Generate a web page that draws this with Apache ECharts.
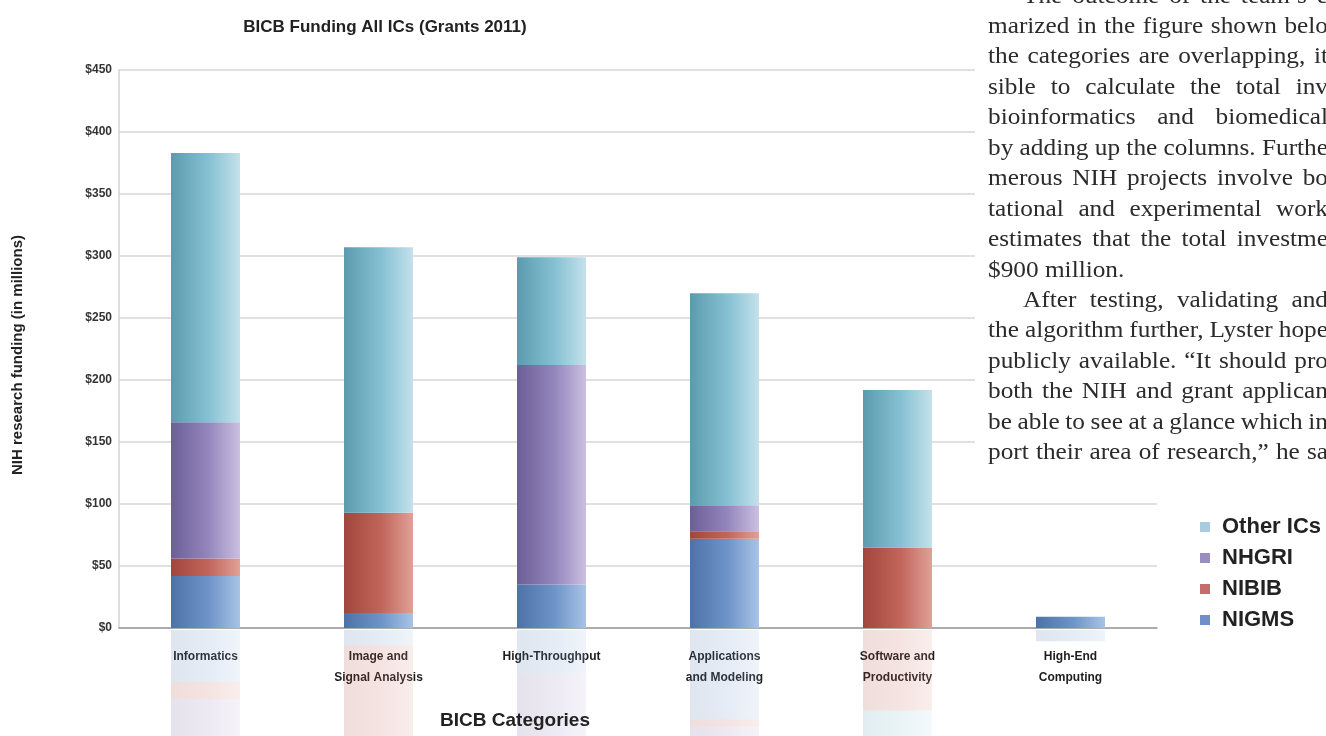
<!DOCTYPE html>
<html>
<head>
<meta charset="utf-8">
<script src="https://cdn.jsdelivr.net/npm/echarts@6/dist/echarts.min.js"></script>
<style>
html,body{margin:0;padding:0;background:#fff;}
#chart{width:1326px;height:736px;}
</style>
</head>
<body>
<div id="chart"></div>
<script>
// ---- data ----
var categories = ["Informatics", "Image and\nSignal Analysis", "High-Throughput", "Applications\nand Modeling", "Software and\nProductivity", "High-End\nComputing"];
var nigms = [42, 12, 35, 72, 0, 9];
var nibib = [14, 81, 0, 6, 65, 0];
var nhgri = [110, 0, 177, 21, 0, 0];
var otherICs = [217, 214, 87, 171, 127, 0];
var yTicks = [0, 50, 100, 150, 200, 250, 300, 350, 400, 450];
var seriesNames = ["NIGMS", "NIBIB", "NHGRI", "Other ICs"];
var legendOrder = ["Other ICs", "NHGRI", "NIBIB", "NIGMS"];
var paragraphLines = [
  "The outcome of the team\u2019s e",
  "marized in the figure shown belo",
  "the categories are overlapping, it",
  "sible to calculate the total inv",
  "bioinformatics and biomedical",
  "by adding up the columns. Furthe",
  "merous NIH projects involve bo",
  "tational and experimental work",
  "estimates that the total investme",
  "$900 million.",
  "After testing, validating and",
  "the algorithm further, Lyster hope",
  "publicly available. \u201cIt should pro",
  "both the NIH and grant applican",
  "be able to see at a glance which in",
  "port their area of research,\u201d he sa"
];
var indentedLines = [0, 10];
var raggedLines = [9];

// ---- styles ----
var colors = {
  "NIGMS": ["#4d72a7", "#6f94c9", "#a9c3e6"],
  "NIBIB": ["#a2463d", "#c2665c", "#e0a196"],
  "NHGRI": ["#6c5e97", "#9487bd", "#cbbfe1"],
  "Other ICs": ["#5b9bae", "#86c1d3", "#c4e1eb"]
};
var legendColors = {"Other ICs": "#a9cbe0", "NHGRI": "#9a8ec0", "NIBIB": "#c56c6c", "NIGMS": "#6f8fc8"};
var dataMap = {"NIGMS": nigms, "NIBIB": nibib, "NHGRI": nhgri, "Other ICs": otherICs};
var PX_PER_UNIT = 558 / 450;
var REFL_H = 106;

function grad(c) {
  return new echarts.graphic.LinearGradient(0, 0, 1, 0, [
    {offset: 0, color: c[0]}, {offset: 0.55, color: c[1]}, {offset: 1, color: c[2]}
  ]);
}

var series = [];
seriesNames.forEach(function (n) {
  series.push({
    name: n, type: 'bar', stack: 'main', xAxisIndex: 0, yAxisIndex: 0,
    barWidth: 69, data: dataMap[n],
    itemStyle: {color: grad(colors[n])}, z: 3
  });
});
seriesNames.forEach(function (n) {
  series.push({
    name: n + ' reflection', type: 'bar', stack: 'refl', xAxisIndex: 1, yAxisIndex: 1,
    barWidth: 69, data: dataMap[n], silent: true, clip: true,
    itemStyle: {color: grad(colors[n]), opacity: 0.18}, z: 1
  });
});

// paragraph text (page scan around the figure), justified to the right edge
var textFont = '23px "Liberation Serif", "DejaVu Serif", serif';
var SX = 1.1;
var mctx = document.createElement('canvas').getContext('2d');
mctx.font = textFont;
var graphics = [];
graphics.push({type: 'rect', left: 975, top: 0, shape: {width: 351, height: 472}, style: {fill: '#fff'}, z: 50, silent: true});
paragraphLines.forEach(function (t, i) {
  var x0 = indentedLines.indexOf(i) >= 0 ? 1023 : 988;
  var y = 8 + i * 30.45;
  var words = t.split(' ');
  var widths = words.map(function (w) { return mctx.measureText(w).width * SX; });
  var total = widths.reduce(function (a, b) { return a + b; }, 0);
  var space = mctx.measureText(' ').width * SX;
  var gap = space;
  if (raggedLines.indexOf(i) < 0 && words.length > 1) {
    gap = Math.max(space * 0.6, (1328 - x0 - total) / (words.length - 1));
  }
  var x = x0;
  words.forEach(function (w, k) {
    graphics.push({
      type: 'text', z: 60, silent: true, x: x, y: y, scaleX: SX,
      style: {text: w, font: textFont, fill: '#2b2b2b', textVerticalAlign: 'bottom', textAlign: 'left'}
    });
    x += widths[k] + gap;
  });
});
graphics.push({
  type: 'text', z: 60, x: 18, y: 355, rotation: Math.PI / 2,
  style: {text: 'NIH research funding (in millions)', font: 'bold 15px "Liberation Sans", Arial, sans-serif', fill: '#222', textAlign: 'center', textVerticalAlign: 'middle'}
});
graphics.push({
  type: 'text', z: 60, x: 515, y: 721,
  style: {text: 'BICB Categories', font: 'bold 19px "Liberation Sans", Arial, sans-serif', fill: '#222', textAlign: 'center', textVerticalAlign: 'middle'}
});

var option = {
  backgroundColor: '#fff',
  animation: false,
  title: {
    text: 'BICB Funding All ICs (Grants 2011)', left: 380, top: 14, textAlign: 'center',
    textStyle: {fontFamily: '"Liberation Sans", Arial, sans-serif', fontWeight: 'bold', fontSize: 17, color: '#222'}
  },
  legend: {
    orient: 'vertical', left: 1195, top: 511, itemWidth: 10, itemHeight: 10, itemGap: 9,
    data: legendOrder.map(function (n) { return {name: n, icon: 'rect', itemStyle: {color: legendColors[n]}}; }),
    textStyle: {fontFamily: '"Liberation Sans", Arial, sans-serif', fontWeight: 'bold', fontSize: 22, color: '#222', lineHeight: 22, padding: [0, 0, 0, 7]}
  },
  grid: [
    {left: 119, right: 169, top: 70, bottom: 108},
    {left: 119, right: 169, top: 630, height: REFL_H}
  ],
  xAxis: [
    {
      type: 'category', gridIndex: 0, data: categories,
      axisLine: {lineStyle: {color: '#9a9a9a', width: 1.5}},
      axisTick: {show: false},
      axisLabel: {margin: 18, lineHeight: 21, fontFamily: '"Liberation Sans", Arial, sans-serif', fontWeight: 'bold', fontSize: 12, color: '#1e1e1e', interval: 0}
    },
    {type: 'category', gridIndex: 1, data: categories, show: false}
  ],
  yAxis: [
    {
      type: 'value', gridIndex: 0, min: yTicks[0], max: yTicks[yTicks.length - 1], interval: yTicks[1] - yTicks[0],
      axisLine: {show: true, lineStyle: {color: '#d4d4d4', width: 1.5}},
      axisTick: {show: false},
      splitLine: {lineStyle: {color: '#d6d6d6', width: 1.5}},
      axisLabel: {margin: 7, formatter: function (v) { return '$' + v; }, fontFamily: '"Liberation Sans", Arial, sans-serif', fontWeight: 'bold', fontSize: 12, color: '#333'}
    },
    {type: 'value', gridIndex: 1, min: 0, max: REFL_H / PX_PER_UNIT, inverse: true, show: false, splitLine: {show: false}}
  ],
  graphic: graphics,
  series: series
};

var chart = echarts.init(document.getElementById('chart'), null, {renderer: 'canvas'});
chart.setOption(option);
</script>
</body>
</html>
